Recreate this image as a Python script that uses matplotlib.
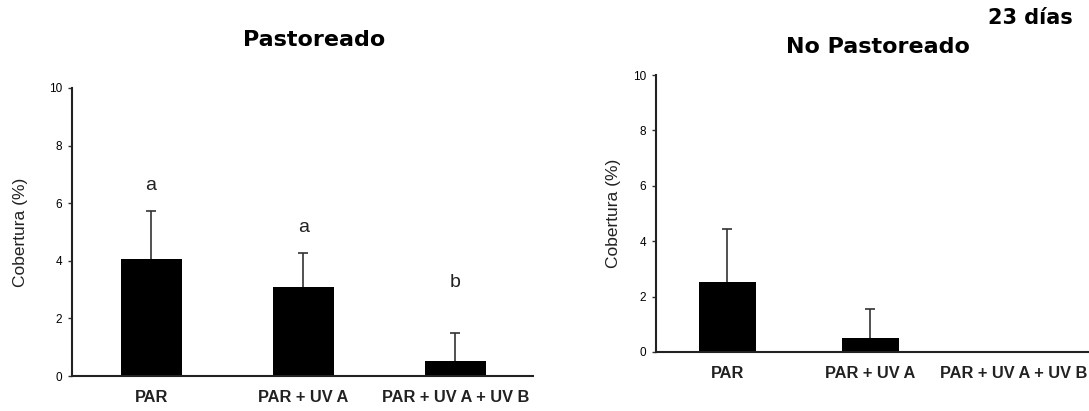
import matplotlib
matplotlib.use("Agg")
import matplotlib.pyplot as plt
import numpy as np

categories = ["PAR", "PAR + UV A", "PAR + UV A + UV B"]
past_vals = [4.06, 3.09, 0.52]
past_err = [1.67, 1.18, 0.97]
past_letters = ["a", "a", "b"]
past_letter_y = [6.63, 5.17, 3.23]
nopast_vals = [2.53, 0.50, 0.0]
nopast_err = [1.91, 1.05, 0.0]
yticks = [0, 2, 4, 6, 8, 10]

W, H = 1089, 411
fig = plt.figure(figsize=(W / 100, H / 100), dpi=100)
fig.patch.set_facecolor("white")

def px_axes(x0, x1, ytop, ybot):
    return fig.add_axes([x0 / W, 1 - ybot / H, (x1 - x0) / W, (ybot - ytop) / H])

ax1 = px_axes(72, 533, 88, 376)
ax2 = px_axes(656, 1089, 75, 352)

sans = ["Liberation Sans", "DejaVu Sans"]

def style(ax, vals, errs, xlim, lpad):
    x = np.arange(len(categories))
    ax.bar(x, vals, width=0.40, color="black", zorder=2)
    eb = ax.errorbar(x, vals, yerr=[np.zeros(len(errs)), errs], fmt="none",
                     ecolor="#333333", elinewidth=1.2, capsize=3.5, capthick=1.2, zorder=1)
    caps = eb[1]
    if len(caps) > 0:
        caps[0].set_visible(False)
    ax.set_xlim(*xlim)
    ax.set_ylim(0, 10)
    ax.set_yticks(yticks)
    ax.set_yticklabels([str(t) for t in yticks], fontsize=8.5, family=sans)
    ax.set_xticks(x)
    ax.set_xticklabels(categories, fontsize=11.8, fontweight="bold", family=sans, color="#222222")
    ax.tick_params(axis="x", length=0, pad=10)
    ax.tick_params(axis="y", length=3, width=1, pad=4, color="#333333")
    for s in ["top", "right"]:
        ax.spines[s].set_visible(False)
    for s in ["left", "bottom"]:
        ax.spines[s].set_linewidth(1.5)
        ax.spines[s].set_color("#222222")
    ax.set_ylabel("Cobertura (%)", fontsize=12.5, family=sans, color="#222222", labelpad=lpad)

style(ax1, past_vals, past_err, (-0.52, 2.51), 15)
style(ax2, nopast_vals, nopast_err, (-0.50, 2.53), 9)

for i, (lab, yy) in enumerate(zip(past_letters, past_letter_y)):
    ax1.text(i, yy, lab, ha="center", va="center", fontsize=14, family=sans, color="#222222")

fig.text(314 / W, 1 - 40 / H, "Pastoreado", ha="center", va="center",
         fontsize=16, fontweight="bold", family="DejaVu Sans")
fig.text(878 / W, 1 - 47 / H, "No Pastoreado", ha="center", va="center",
         fontsize=16, fontweight="bold", family="DejaVu Sans")
fig.text(1030 / W, 1 - 18 / H, "23 días", ha="center", va="center",
         fontsize=15, fontweight="bold", family="DejaVu Sans")

fig.savefig("out.png", dpi=100, facecolor="white")
